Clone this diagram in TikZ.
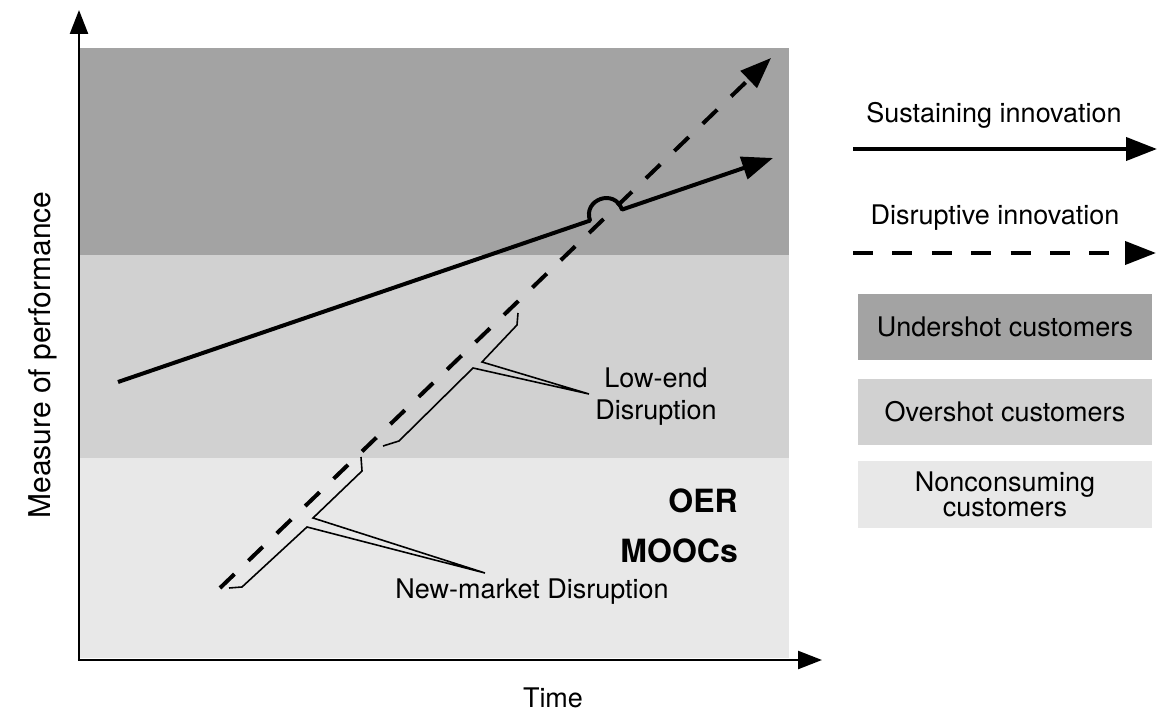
\documentclass[tikz,border=0pt]{standalone}
\usepackage{fontspec}
\setmainfont{TeX Gyre Heros}
\usetikzlibrary{arrows.meta}
\definecolor{bandDark}{HTML}{A3A3A3}
\definecolor{bandMid}{HTML}{D1D1D1}
\definecolor{bandLight}{HTML}{E8E8E8}
\begin{document}
\begin{tikzpicture}[x=1pt,y=-1pt,
  axis/.style={line width=2.4pt, -{Triangle[length=24pt,width=18pt]}},
  sustain/.style={line width=4pt, line join=round, -{Triangle[length=31pt,width=23pt]}},
  disrupt/.style={line width=4pt, dash pattern=on 20pt off 19.4pt, -{Triangle[length=31pt,width=23pt]}},
  bracket/.style={line width=1.6pt, line join=miter},
  lbl/.style={font=\fontsize{27}{30}\selectfont, inner sep=0pt, anchor=base},
  boldlbl/.style={font=\fontsize{32}{36}\selectfont\bfseries, inner sep=0pt, anchor=base east},
  legbox/.style={inner sep=0pt, minimum width=294pt, minimum height=66pt, align=center,
                 font=\fontsize{27}{22}\selectfont},
]
\useasboundingbox (0,0) rectangle (1157,719);

% bands
\fill[bandDark]  (80,48)  rectangle (789,255);
\fill[bandMid]   (80,255) rectangle (789,458);
\fill[bandLight] (80,458) rectangle (789,658);

% axes
\coordinate (O) at (79,660);
\coordinate (O2) at (77.8,660);
\coordinate (ytip) at (79,10);
\coordinate (xtip) at (822,660);
\draw[axis] (O) -- (ytip);
\draw[axis] (O2) -- (xtip);

% sustaining innovation line with hop
\coordinate (s0) at (118,382);
\coordinate (h1) at (590,220.6);
\coordinate (h2) at (622,209.6);
\coordinate (s1) at (773,158);
\draw[sustain] (s0) -- (h1) .. controls (582.7,199.2) and (614.7,188.2) .. (h2) -- (s1);

% disruptive innovation line
\coordinate (d0) at (220,588);
\coordinate (d1) at (771,58);
\draw[disrupt] (d0) -- (d1);

% low-end bracket
\coordinate (lb0) at (383,446);
\coordinate (lb1) at (399,441);
\coordinate (lb2) at (473,368);
\coordinate (lbt) at (589,394);
\coordinate (lb3) at (482,362);
\coordinate (lb4) at (517,325);
\coordinate (lb5) at (518,313);
\draw[bracket] (lb0) -- (lb1) -- (lb2) -- (lbt) -- (lb3) -- (lb4) -- (lb5);

% new-market bracket
\coordinate (nb0) at (229,588);
\coordinate (nb1) at (242,587);
\coordinate (nb2) at (307,527);
\coordinate (nbt) at (485,573);
\coordinate (nb3) at (313,518);
\coordinate (nb4) at (362,471);
\coordinate (nb5) at (361,457);
\draw[bracket] (nb0) -- (nb1) -- (nb2) -- (nbt) -- (nb3) -- (nb4) -- (nb5);

% labels in the plot
\node[lbl] (low1) at (656,388) {Low-end};
\node[lbl] (low2) at (656,419) {Disruption};
\node[lbl] (newm) at (532,598) {New-market Disruption};
\node[boldlbl] (oer) at (738,512) {OER};
\node[boldlbl] (mooc) at (738,562) {MOOCs};
\node[lbl] (time) at (553,707) {Time};
\node[lbl, rotate=90, font=\fontsize{30}{34}\selectfont] (ylab) at (50,355) {Measure of performance};

% legend
\node[lbl] (sustxt) at (994,123) {Sustaining innovation};
\coordinate (ls0) at (853,149);
\coordinate (ls1) at (1157,149);
\draw[sustain] (ls0) -- (ls1);
\node[lbl] (distxt) at (995,225) {Disruptive innovation};
\coordinate (ld0) at (853,253);
\coordinate (ld1) at (1156,253);
\draw[disrupt] (ld0) -- (ld1);

\node[legbox, fill=bandDark] (under) at (1005,327) {Undershot customers};
\node[legbox, fill=bandMid] (over) at (1005,412) {Overshot customers};
\node[legbox, fill=bandLight, minimum height=67pt] (noncons) at (1005,494.5) {Nonconsuming\\customers};
\end{tikzpicture}
\end{document}
